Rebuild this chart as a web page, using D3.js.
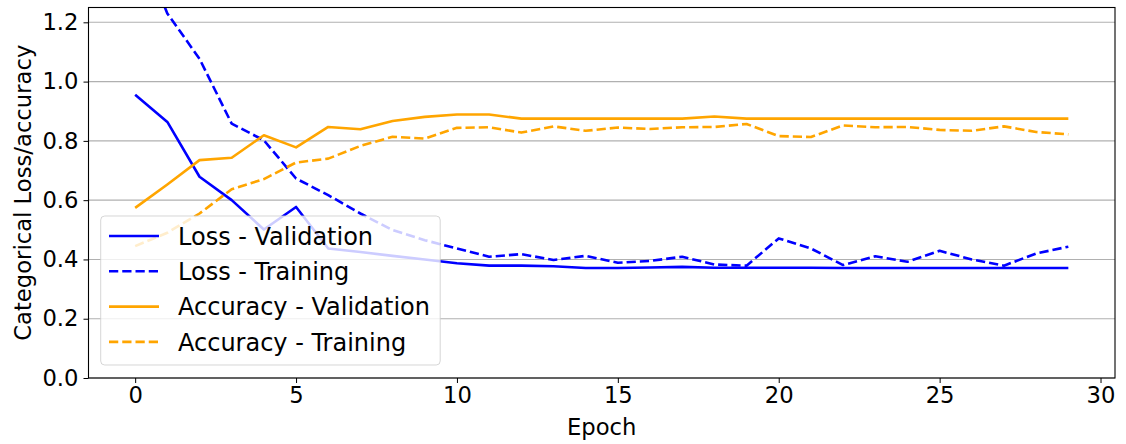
<!DOCTYPE html>
<html><head><meta charset="utf-8">
<script src="https://cdn.jsdelivr.net/npm/d3@7"></script>
<style>body{margin:0;background:#fff}svg{display:block}text{font-family:"DejaVu Sans",sans-serif}</style>
</head><body><svg id="c" width="1126" height="444"></svg>
<script>
const epochs = d3.range(30);
const lossVal = [0.956,0.864,0.679,0.600,0.501,0.577,0.437,0.425,0.412,0.400,0.387,0.379,0.379,0.377,0.371,0.371,0.373,0.375,0.372,0.372,0.372,0.372,0.371,0.371,0.371,0.371,0.371,0.371,0.371,0.371];
const lossTrain = [1.50,1.23,1.077,0.858,0.802,0.673,0.617,0.555,0.499,0.465,0.437,0.409,0.418,0.398,0.412,0.389,0.395,0.409,0.383,0.379,0.471,0.437,0.381,0.411,0.392,0.429,0.400,0.379,0.420,0.443];
const accVal = [0.574,0.653,0.735,0.743,0.819,0.778,0.847,0.839,0.867,0.881,0.889,0.889,0.875,0.875,0.875,0.875,0.875,0.875,0.882,0.875,0.875,0.875,0.875,0.875,0.875,0.875,0.875,0.875,0.875,0.875];
const accTrain = [0.445,0.490,0.555,0.637,0.671,0.727,0.740,0.783,0.814,0.808,0.844,0.846,0.828,0.849,0.834,0.845,0.840,0.846,0.847,0.857,0.816,0.813,0.852,0.846,0.847,0.837,0.834,0.849,0.830,0.822];
const xTicks = [0,5,10,15,20,25,30];
const yTicks = [0,0.2,0.4,0.6,0.8,1.0,1.2];
const seriesNames = ["Loss - Validation","Loss - Training","Accuracy - Validation","Accuracy - Training"];

const series = [
  {name:seriesNames[0], values:lossVal, color:"#0000ff", dash:null},
  {name:seriesNames[1], values:lossTrain, color:"#0000ff", dash:"9.25,4"},
  {name:seriesNames[2], values:accVal, color:"#ffa500", dash:null},
  {name:seriesNames[3], values:accTrain, color:"#ffa500", dash:"9.25,4"}
];

const L=88.5, R=1115, T=7.5, B=378;
const svg = d3.select("#c");
const x = d3.scaleLinear().domain([-1.45,30.45]).range([L,R]);
const y = d3.scaleLinear().domain([0,1.25]).range([B,T]);
const FS = 22.7, LFS = 24;

svg.append("defs").append("clipPath").attr("id","clip")
  .append("rect").attr("x",L).attr("y",T).attr("width",R-L).attr("height",B-T);

// grid
svg.append("g").selectAll("line").data(yTicks).join("line")
  .attr("x1",L).attr("x2",R).attr("y1",d=>y(d)).attr("y2",d=>y(d))
  .attr("stroke","#b0b0b0").attr("stroke-width",1.1);

// lines
const line = d3.line().x((d,i)=>x(epochs[i])).y(d=>y(d));
svg.append("g").attr("clip-path","url(#clip)").selectAll("path").data(series).join("path")
  .attr("d",d=>line(d.values)).attr("fill","none").attr("stroke",d=>d.color)
  .attr("stroke-width",2.6).attr("stroke-dasharray",d=>d.dash).attr("stroke-linejoin","round");

// axes
const xa = svg.append("g").attr("transform",`translate(0,${B})`)
  .call(d3.axisBottom(x).tickValues(xTicks).tickFormat(d3.format("d")).tickSize(5).tickPadding(4));
const ya = svg.append("g").attr("transform",`translate(${L},0)`)
  .call(d3.axisLeft(y).tickValues(yTicks).tickFormat(d3.format(".1f")).tickSize(5).tickPadding(5));
[xa,ya].forEach(a=>{a.select(".domain").remove();
  a.selectAll("text").attr("font-size",FS).attr("font-family","DejaVu Sans").attr("fill","#000");
  a.selectAll("line").attr("stroke","#000").attr("stroke-width",1);});

svg.append("rect").attr("x",L).attr("y",T).attr("width",R-L).attr("height",B-T)
  .attr("fill","none").attr("stroke","#000").attr("stroke-width",1.1);

svg.append("text").attr("x",(L+R)/2).attr("y",435).attr("text-anchor","middle")
  .attr("font-size",FS).text("Epoch");
svg.append("text").attr("transform",`translate(30.5,${(T+B)/2}) rotate(-90)`).attr("text-anchor","middle")
  .attr("font-size",FS).text("Categorical Loss/accuracy");

// legend
const lg = svg.append("g");
lg.append("rect").attr("x",100.7).attr("y",216).attr("width",339.5).attr("height",149)
  .attr("rx",4).attr("fill","#fff").attr("fill-opacity",0.8).attr("stroke","#cccccc").attr("stroke-opacity",0.8);
const rows = lg.selectAll("g").data(series).join("g")
  .attr("transform",(d,i)=>`translate(0,${236+i*35.3})`);
rows.append("line").attr("x1",109).attr("x2",159).attr("stroke",d=>d.color)
  .attr("stroke-width",2.6).attr("stroke-dasharray",d=>d.dash);
rows.append("text").attr("x",178).attr("dy","0.36em").attr("font-size",LFS).text(d=>d.name);
</script></body></html>
